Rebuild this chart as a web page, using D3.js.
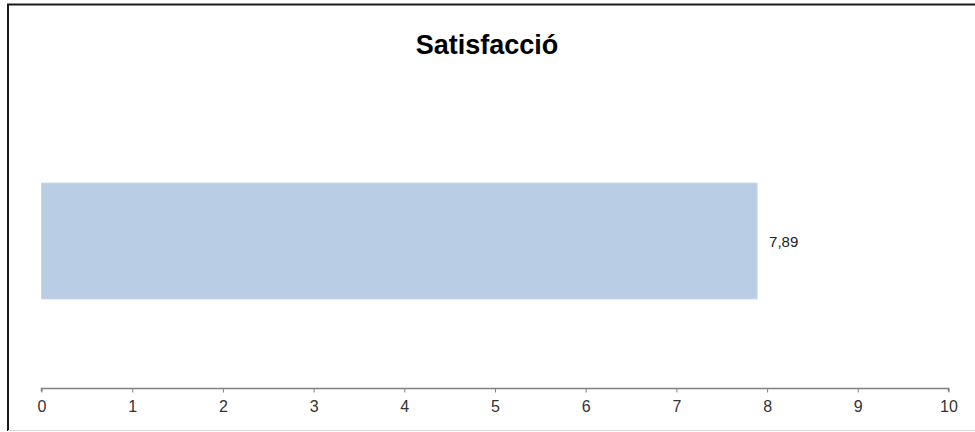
<!DOCTYPE html>
<html>
<head>
<meta charset="utf-8">
<script src="https://cdn.jsdelivr.net/npm/d3@7"></script>
<style>
  html, body { margin: 0; padding: 0; background: #fff; }
  svg { display: block; }
</style>
</head>
<body>
<svg id="chart" width="975" height="432"></svg>
<script>
// Chart data
const categories = ["Satisfacció"];
const values = [7.89];
const tickValues = [0, 1, 2, 3, 4, 5, 6, 7, 8, 9, 10];
const chartTitle = "Satisfacció";

const svg = d3.select("#chart");
const W = 975, H = 432;

// Frame: dark rule on top and left, faint rule at the bottom
svg.append("line").attr("x1", 7).attr("x2", W).attr("y1", 4.5).attr("y2", 4.5)
  .attr("stroke", "#1a1a1a").attr("stroke-width", 2);
svg.append("line").attr("x1", 8).attr("x2", 8).attr("y1", 4).attr("y2", 431)
  .attr("stroke", "#1a1a1a").attr("stroke-width", 2);
svg.append("line").attr("x1", 8).attr("x2", W).attr("y1", 430.5).attr("y2", 430.5)
  .attr("stroke", "#d9d9d9").attr("stroke-width", 1);

const x = d3.scaleLinear().domain([0, 10]).range([41.5, 948.5]);
const y = d3.scaleBand().domain(categories).range([154, 328]).paddingInner(0).paddingOuter(0.25);

// Title
svg.append("text")
  .attr("x", 487).attr("y", 54)
  .attr("text-anchor", "middle")
  .attr("font-family", "Liberation Sans, Arial, sans-serif")
  .attr("font-weight", "bold")
  .attr("font-size", 27)
  .attr("fill", "#000")
  .text(chartTitle);

// Bars
svg.selectAll("rect.bar")
  .data(values)
  .join("rect")
  .attr("class", "bar")
  .attr("x", x(0))
  .attr("y", (d, i) => y(categories[i]))
  .attr("width", d => x(d) - x(0))
  .attr("height", y.bandwidth())
  .attr("fill", "#b9cde5")
  .attr("stroke", "#c9d9ec")
  .attr("stroke-width", 1);

// Value labels
svg.selectAll("text.val")
  .data(values)
  .join("text")
  .attr("class", "val")
  .attr("x", d => x(d) + 12)
  .attr("y", (d, i) => y(categories[i]) + y.bandwidth() / 2 + 6)
  .attr("font-family", "Liberation Sans, Arial, sans-serif")
  .attr("font-size", 15)
  .attr("fill", "#222")
  .text(d => d3.format(".2f")(d).replace(".", ","));

// Axis
const axis = d3.axisBottom(x)
  .tickValues(tickValues)
  .tickSize(4)
  .tickPadding(8)
  .tickFormat(d3.format("d"));

const gAxis = svg.append("g")
  .attr("transform", "translate(0,388.5)")
  .call(axis);
gAxis.select(".domain").attr("stroke", "#808080").attr("stroke-width", 1.5)
  .attr("d", `M${x(0)},3V0H${x(10)}V3`);
gAxis.selectAll(".tick line").attr("stroke", "#808080");
gAxis.selectAll(".tick text")
  .attr("font-family", "Liberation Sans, Arial, sans-serif")
  .attr("font-size", 16)
  .attr("fill", "#333");
</script>
</body>
</html>
